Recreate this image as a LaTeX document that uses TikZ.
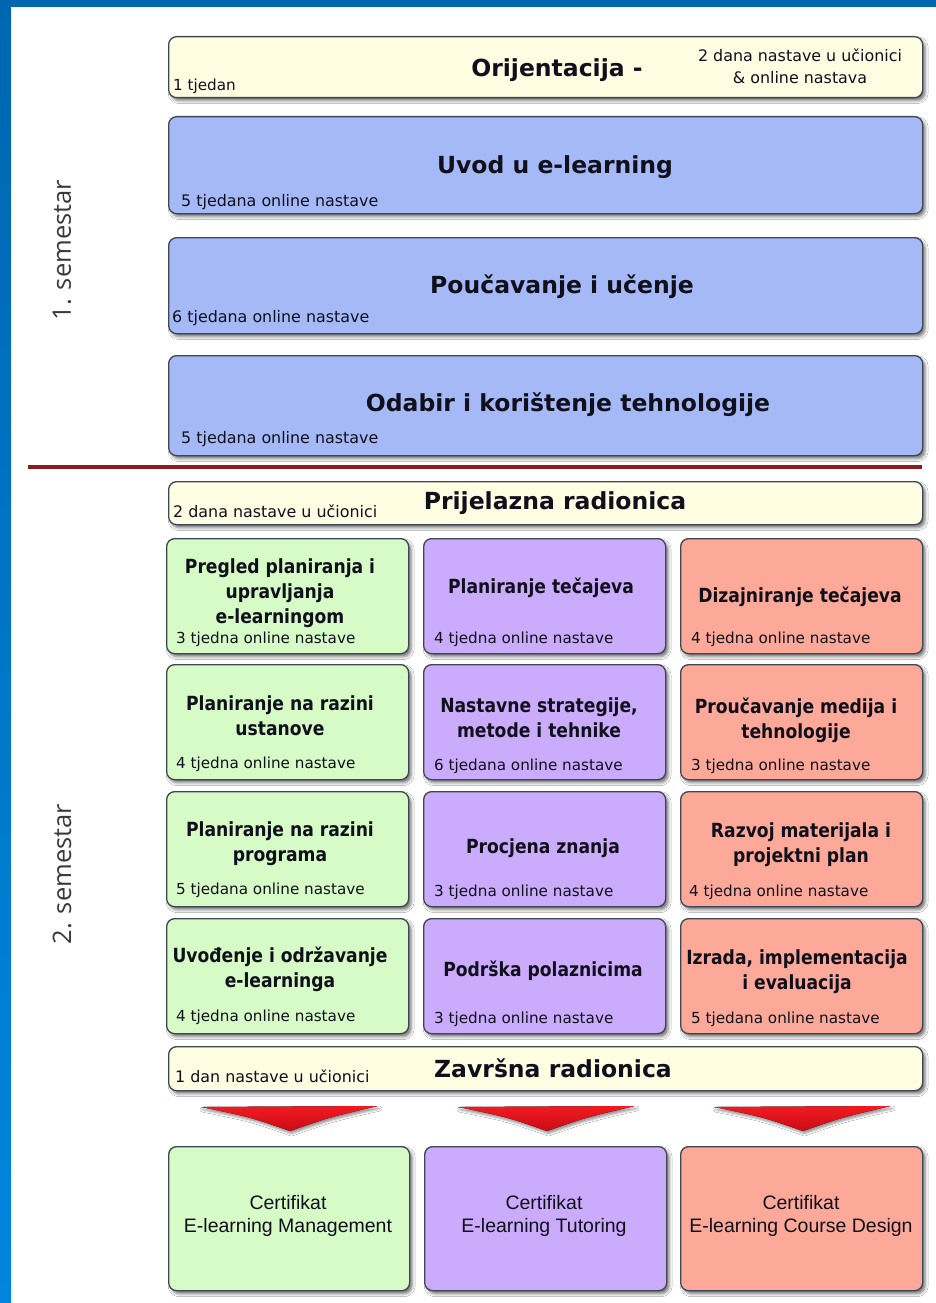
\documentclass[tikz,border=0pt]{standalone}
\usepackage{fontspec}
\setmainfont{DejaVu Sans}
\newfontfamily\condfont[FakeStretch=0.88]{DejaVu Sans}
\newfontfamily\certfont{Liberation Sans}
\newfontfamily\semfont{Open Sans}
\usetikzlibrary{shadows.blur}
\definecolor{bluebar}{HTML}{0066B0}
\definecolor{bluebarlight}{HTML}{0086DE}
\definecolor{boxline}{HTML}{3E4852}
\definecolor{ylw}{HTML}{FFFDE2}
\definecolor{bluebox}{HTML}{A6B9F7}
\definecolor{greenbox}{HTML}{D6FBC6}
\definecolor{purplebox}{HTML}{CBABFB}
\definecolor{salmonbox}{HTML}{FCA999}
\definecolor{divider}{HTML}{8A1C1E}
\definecolor{semgray}{HTML}{3A3A3A}
\definecolor{ink}{HTML}{10101C}
\definecolor{arrowred}{HTML}{F21A22}
\definecolor{arrowdark}{HTML}{C80C14}
\begin{document}
\begin{tikzpicture}[x=1pt,y=-1pt,
  box/.style={draw=boxline, line width=1.3pt, rounded corners=8pt, anchor=north west,
    inner sep=0pt, blur shadow={shadow xshift=2.5pt, shadow yshift=-3pt, shadow blur radius=3pt, shadow opacity=55}},
  wide/.style={box, minimum width=754pt},
  cell/.style={box, minimum width=242pt, minimum height=115pt},
  bigtitle/.style={font=\bfseries\fontsize{23.5}{28}\selectfont, text=ink, inner sep=0pt},
  celltitle/.style={font=\condfont\bfseries\fontsize{19.5}{25}\selectfont, text=ink, align=center, inner sep=0pt},
  lbl/.style={font=\fontsize{15.2}{22}\selectfont, text=ink, anchor=west, inner sep=0pt, align=center},
  lblwide/.style={lbl, font=\fontsize{15.9}{22}\selectfont},
  cert/.style={font=\certfont\fontsize{19.5}{23}\selectfont, text=ink, align=center, inner sep=0pt},
  sem/.style={font=\semfont\fontsize{25.5}{30}\selectfont, text=semgray, rotate=90, inner sep=0pt},
  redarrow/.style={top color=arrowred, bottom color=arrowdark, blur shadow={shadow xshift=1.5pt, shadow yshift=-2.5pt, shadow blur radius=2.5pt, shadow opacity=45}}
]
\useasboundingbox (0,0) rectangle (936,1303);
\fill[white] (0,0) rectangle (936,1303);
% page frame
\shade[top color=bluebar, bottom color=bluebarlight] (0,0) rectangle (11,1303);
\fill[bluebar] (0,0) rectangle (936,7);

% semester labels
\node[sem] (sem1) at (62,250) {1. semestar};
\node[sem] (sem2) at (62,874) {2. semestar};

% ---------- semester 1 ----------
\node[wide, fill=ylw, minimum height=61pt] (ori) at (168,36) {};
\node[bigtitle] (oriT) at (557,70) {Orijentacija -};
\node[lblwide, anchor=center] (oriR) at (800,66) {2 dana nastave u učionici\\\& online nastava};
\node[lbl] (oriL) at (173,86) {1 tjedan};

\node[wide, fill=bluebox, minimum height=97pt] (uvod) at (168,116) {};
\node[bigtitle] (uvodT) at (555,167) {Uvod u e-learning};
\node[lblwide] (uvodL) at (181,202) {5 tjedana online nastave};

\node[wide, fill=bluebox, minimum height=96pt] (pouc) at (168,237) {};
\node[bigtitle] (poucT) at (562,287) {Poučavanje i učenje};
\node[lblwide] (poucL) at (172,318) {6 tjedana online nastave};

\node[wide, fill=bluebox, minimum height=100pt] (odab) at (168,355) {};
\node[bigtitle] (odabT) at (568,405) {Odabir i korištenje tehnologije};
\node[lblwide] (odabL) at (181,439) {5 tjedana online nastave};

% divider
\coordinate (divL) at (28,467);
\coordinate (divR) at (922,467);
\draw[divider, line width=4.5pt] (divL) -- (divR);

% ---------- semester 2 ----------
\node[wide, fill=ylw, minimum height=43pt] (prij) at (168,481) {};
\node[bigtitle] (prijT) at (555,503) {Prijelazna radionica};
\node[lblwide] (prijL) at (173,511) {2 dana nastave u učionici};

% row 1
\node[cell, fill=greenbox] (g1) at (166,538) {};
\node[celltitle] (g1T) at (280,593) {Pregled planiranja i\\upravljanja\\e-learningom};
\node[lbl] (g1L) at (176,639) {3 tjedna online nastave};
\node[cell, fill=purplebox] (p1) at (423,538) {};
\node[celltitle] (p1T) at (541,588) {Planiranje tečajeva};
\node[lbl] (p1L) at (434,639) {4 tjedna online nastave};
\node[cell, fill=salmonbox] (s1) at (680,538) {};
\node[celltitle] (s1T) at (800,597) {Dizajniranje tečajeva};
\node[lbl] (s1L) at (691,639) {4 tjedna online nastave};

% row 2
\node[cell, fill=greenbox] (g2) at (166,664) {};
\node[celltitle] (g2T) at (280,716) {Planiranje na razini\\ustanove};
\node[lbl] (g2L) at (176,764) {4 tjedna online nastave};
\node[cell, fill=purplebox] (p2) at (423,664) {};
\node[celltitle] (p2T) at (539,718) {Nastavne strategije,\\metode i tehnike};
\node[lbl] (p2L) at (434,766) {6 tjedana online nastave};
\node[cell, fill=salmonbox] (s2) at (680,664) {};
\node[celltitle] (s2T) at (796,720) {Proučavanje medija i\\tehnologije};
\node[lbl] (s2L) at (691,766) {3 tjedna online nastave};

% row 3
\node[cell, fill=greenbox] (g3) at (166,791) {};
\node[celltitle] (g3T) at (280,844) {Planiranje na razini\\programa};
\node[lbl] (g3L) at (176,890) {5 tjedana online nastave};
\node[cell, fill=purplebox] (p3) at (423,791) {};
\node[celltitle] (p3T) at (543,848) {Procjena znanja};
\node[lbl] (p3L) at (434,892) {3 tjedna online nastave};
\node[cell, fill=salmonbox] (s3) at (680,791) {};
\node[celltitle] (s3T) at (801,845) {Razvoj materijala i\\projektni plan};
\node[lbl] (s3L) at (689,892) {4 tjedna online nastave};

% row 4
\node[cell, fill=greenbox] (g4) at (166,918) {};
\node[celltitle] (g4T) at (280,969) {Uvođenje i održavanje\\e-learninga};
\node[lbl] (g4L) at (176,1017) {4 tjedna online nastave};
\node[cell, fill=purplebox] (p4) at (423,918) {};
\node[celltitle] (p4T) at (543,971) {Podrška polaznicima};
\node[lbl] (p4L) at (434,1019) {3 tjedna online nastave};
\node[cell, fill=salmonbox] (s4) at (680,918) {};
\node[celltitle] (s4T) at (797,972) {Izrada, implementacija\\i evaluacija};
\node[lbl] (s4L) at (691,1019) {5 tjedana online nastave};

% final workshop
\node[wide, fill=ylw, minimum height=44pt] (zav) at (168,1046) {};
\node[bigtitle] (zavT) at (553,1068) {Završna radionica};
\node[lblwide] (zavL) at (175,1076) {1 dan nastave u učionici};

% arrows
\fill[redarrow] (201,1107) -- (378,1106) .. controls (330,1117) .. (290,1131) .. controls (250,1117) .. cycle;
\fill[redarrow] (458,1107) -- (635,1106) .. controls (587,1117) .. (547,1131) .. controls (507,1117) .. cycle;
\fill[redarrow] (714,1107) -- (891,1106) .. controls (843,1117) .. (803,1131) .. controls (763,1117) .. cycle;

% certificates
\node[box, fill=greenbox, minimum width=241pt, minimum height=144pt] (c1) at (168,1146) {};
\node[cert] (c1T) at (288,1216) {Certifikat\\E-learning Management};
\node[box, fill=purplebox, minimum width=242pt, minimum height=144pt] (c2) at (424,1146) {};
\node[cert] (c2T) at (544,1216) {Certifikat\\E-learning Tutoring};
\node[box, fill=salmonbox, minimum width=242pt, minimum height=144pt] (c3) at (680,1146) {};
\node[cert] (c3T) at (801,1216) {Certifikat\\E-learning Course Design};
\end{tikzpicture}
\end{document}
